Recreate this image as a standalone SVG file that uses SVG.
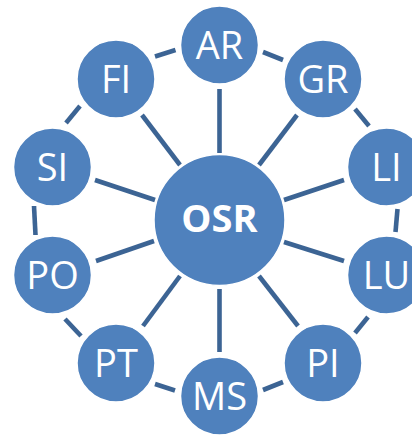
<svg xmlns="http://www.w3.org/2000/svg" width="412" height="435" viewBox="0 0 412 435">
<style>
.n circle{fill:#4F81BD;stroke:#ffffff;stroke-width:1.5}
.n text{fill:#ffffff;font-family:"Open Sans","Liberation Sans",sans-serif;font-size:38px;text-anchor:middle}
#OSR text{font-weight:bold;font-size:38px}
#links line{stroke:#3C6494;stroke-width:4.6;stroke-linecap:butt}
</style>
<rect width="412" height="435" fill="#ffffff"/>
<g id="links">
<line x1="219.5" y1="89" x2="219.5" y2="153"/>
<line x1="259" y1="165" x2="297" y2="115"/>
<line x1="284" y1="200" x2="344" y2="180"/>
<line x1="284" y1="242" x2="344" y2="261"/>
<line x1="259" y1="276" x2="298" y2="326"/>
<line x1="219.5" y1="289" x2="219.5" y2="352"/>
<line x1="180" y1="276" x2="143" y2="326"/>
<line x1="154" y1="241" x2="96" y2="261"/>
<line x1="95" y1="180" x2="155" y2="200"/>
<line x1="142" y1="115" x2="180" y2="165"/>
<line x1="263" y1="52" x2="283" y2="60"/>
<line x1="355" y1="109" x2="369" y2="126"/>
<line x1="397.5" y1="209" x2="395.5" y2="232"/>
<line x1="368" y1="317" x2="355" y2="333"/>
<line x1="283" y1="382" x2="263" y2="390"/>
<line x1="175" y1="390.5" x2="155" y2="384"/>
<line x1="81" y1="336" x2="65" y2="319"/>
<line x1="34" y1="206" x2="35.5" y2="235"/>
<line x1="66" y1="123" x2="80" y2="106"/>
<line x1="155" y1="56.5" x2="175.5" y2="50"/>
</g>
<g id="OSR" class="n"><circle cx="219.5" cy="220" r="65.5"/><text x="219.5" y="232">OSR</text></g>
<g id="AR" class="n"><circle cx="219.5" cy="45" r="39"/><text x="219.5" y="59">AR</text></g>
<g id="GR" class="n"><circle cx="323" cy="79" r="39"/><text x="323" y="93">GR</text></g>
<g id="LI" class="n"><circle cx="386.5" cy="167" r="39"/><text x="386.5" y="181">LI</text></g>
<g id="LU" class="n"><circle cx="386.5" cy="275" r="39"/><text x="386.5" y="289">LU</text></g>
<g id="PI" class="n"><circle cx="323" cy="363" r="39"/><text x="323" y="377">PI</text></g>
<g id="MS" class="n"><circle cx="219.5" cy="396" r="39"/><text x="219.5" y="410">MS</text></g>
<g id="PT" class="n"><circle cx="116" cy="363" r="39"/><text x="116" y="377">PT</text></g>
<g id="PO" class="n"><circle cx="52.5" cy="275" r="39"/><text x="52.5" y="289">PO</text></g>
<g id="SI" class="n"><circle cx="52.5" cy="167" r="39"/><text x="52.5" y="181">SI</text></g>
<g id="FI" class="n"><circle cx="116" cy="79" r="39"/><text x="116" y="93">FI</text></g>
</svg>
